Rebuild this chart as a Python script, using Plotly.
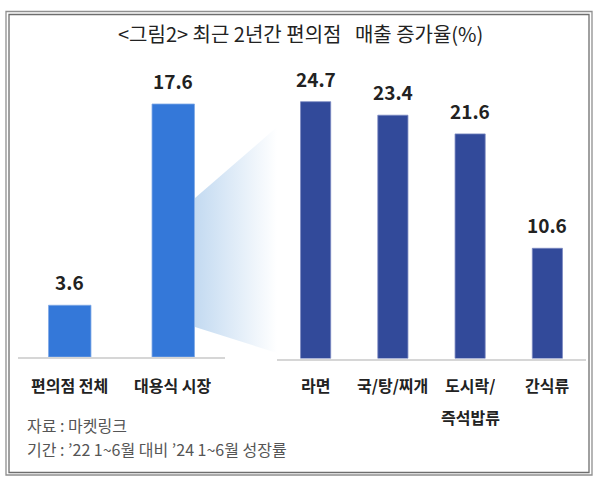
import plotly.graph_objects as go

# ---- data ----
left_cats = ["편의점 전체", "대용식 시장"]
left_vals = [3.6, 17.6]
right_cats = ["라면", "국/탕/찌개", "도시락/<br>즉석밥류", "간식류"]
right_vals = [24.7, 23.4, 21.6, 10.6]
title_text = "&lt;그림2&gt; 최근 2년간 편의점&nbsp;&nbsp; 매출 증가율(%)"
source_lines = ["자료 : 마켓링크", "기간 : ’22 1~6월 대비 ’24 1~6월 성장률"]

# ---- style ----
W, H = 600, 485
LEFT_COLOR = "#3478d9"
RIGHT_COLOR = "#324a9a"
KFONT = "Noto Sans CJK KR"

def px(x):
    return x / W

def py(y):
    return 1 - y / H

# decorative gradient wedge (pixel coordinates on full-page overlay axes)
wedge_x = [195, 277, 277, 195, 195]
wedge_y = [198, 127, 353, 327, 198]

fig = go.Figure()

fig.add_trace(go.Scatter(
    x=wedge_x, y=wedge_y, xaxis="x3", yaxis="y3",
    mode="lines", line=dict(width=0), fill="toself",
    fillgradient=dict(type="horizontal",
                      colorscale=[[0, "rgba(195,218,241,1)"], [1, "rgba(255,255,255,1)"]]),
    hoverinfo="skip", showlegend=False,
))

fig.add_trace(go.Bar(
    x=left_cats, y=left_vals, xaxis="x", yaxis="y",
    marker=dict(color=LEFT_COLOR, line=dict(color="#7fa8e6", width=0.8)),
    width=0.41, showlegend=False,
))
fig.add_trace(go.Bar(
    x=right_cats, y=right_vals, xaxis="x2", yaxis="y2",
    marker=dict(color=RIGHT_COLOR, line=dict(color="#7a88c0", width=0.8)),
    width=0.39, showlegend=False,
))

annotations = []
valfont = dict(family=KFONT, size=19, color="#222222")
catfont = dict(family=KFONT, size=16, color="#222222", weight="bold")

for xr, cats, vals in (("x", left_cats, left_vals), ("x2", right_cats, right_vals)):
    for c, v in zip(cats, vals):
        annotations.append(dict(x=c, y=v, xref=xr, yref=xr.replace("x", "y"),
                                text=f"<b>{v}</b>", showarrow=False,
                                yanchor="bottom", yshift=8, font=valfont))
        # category labels, one annotation per line, placed on the category axis
        for j, part in enumerate(c.split("<br>")):
            annotations.append(dict(x=c, y=py(385 + 32 * j), xref=xr, yref="paper",
                                    text=part, showarrow=False,
                                    xanchor="center", yanchor="middle",
                                    height=20, font=catfont))

annotations.append(dict(x=px(300), y=py(34), xref="paper", yref="paper",
                        text=title_text, showarrow=False,
                        xanchor="center", yanchor="middle",
                        font=dict(family=KFONT, size=20, color="#222222")))
for i, line in enumerate(source_lines):
    annotations.append(dict(x=px(25), y=py(425 + 24 * i), xref="paper", yref="paper",
                            text=line, showarrow=False,
                            xanchor="left", yanchor="middle", align="left",
                            font=dict(family=KFONT, size=16, color="#555555")))

shapes = [
    dict(type="rect", xref="paper", yref="paper",
         x0=px(6), x1=px(592), y0=py(11.5), y1=py(475),
         line=dict(color="#8f8f8f", width=1.3), fillcolor="rgba(0,0,0,0)", layer="above"),
    dict(type="rect", xref="paper", yref="paper",
         x0=px(9), x1=px(589), y0=py(14.5), y1=py(472.5),
         line=dict(color="#6e6e6e", width=1.3), fillcolor="rgba(0,0,0,0)", layer="above"),
]

fig.update_layout(
    width=W, height=H,
    margin=dict(l=0, r=0, t=0, b=0),
    paper_bgcolor="white", plot_bgcolor="rgba(0,0,0,0)",
    showlegend=False,
    xaxis=dict(domain=[px(18), px(225)], anchor="y", type="category",
               showline=True, linecolor="#d6d6d6", linewidth=1.5,
               showgrid=False, zeroline=False, ticks="", showticklabels=False,
               fixedrange=True),
    yaxis=dict(domain=[py(357), py(60)], anchor="x", range=[0, (357 - 60) / 14.375],
               visible=False, fixedrange=True),
    xaxis2=dict(domain=[px(277), px(586)], anchor="y2", type="category",
                showline=True, linecolor="#d6d6d6", linewidth=1.5,
                showgrid=False, zeroline=False, ticks="", showticklabels=False,
                fixedrange=True),
    yaxis2=dict(domain=[py(358.5), py(60)], anchor="x2", range=[0, (358.5 - 60) / 10.397],
                visible=False, fixedrange=True),
    xaxis3=dict(domain=[0, 1], anchor="y3", range=[0, W], visible=False, fixedrange=True),
    yaxis3=dict(domain=[0, 1], anchor="x3", range=[H, 0], visible=False, fixedrange=True),
    annotations=annotations,
    shapes=shapes,
)

fig.write_html("out.html", config={"displayModeBar": False},
               post_script="document.body.style.margin='0';document.body.style.padding='0';")
